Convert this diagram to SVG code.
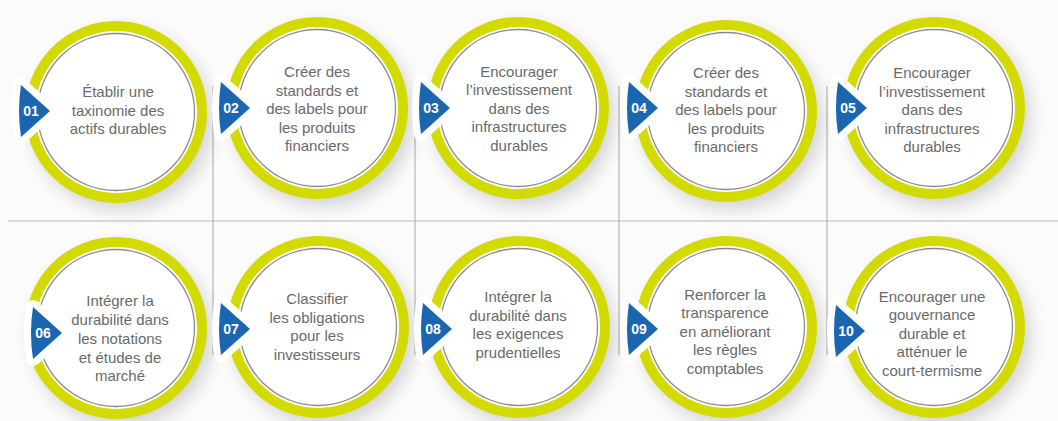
<svg xmlns="http://www.w3.org/2000/svg" xmlns:xlink="http://www.w3.org/1999/xlink" width="1058" height="421" viewBox="0 0 1058 421">
<style>
.lbl{font-family:"Liberation Sans",Arial,sans-serif;font-size:15px;fill:#6a6a6a;text-anchor:middle}
.num{font-family:"Liberation Sans",Arial,sans-serif;font-size:14px;font-weight:bold;fill:#ffffff;text-anchor:middle}
.ring{fill:#ffffff;stroke:#d3da00;stroke-width:10}
.inner{fill:none;stroke:#8c8c8c;stroke-width:1.3}
.shadow{fill:#000000;opacity:0.16;filter:url(#blur)}
.halo{fill:#ffffff;stroke:#ffffff;stroke-width:14;stroke-linejoin:round}
.tri{fill:#1b66b1}
.vline{stroke:#a8a8a8;stroke-width:1}
.hline{stroke:#cfcfcf;stroke-width:1.5}
</style>
<defs>
<filter id="blur" x="-30%" y="-30%" width="160%" height="160%"><feGaussianBlur stdDeviation="9"/></filter>
<path id="tri" d="M-29,-26 Q-33,0 -29,26 L0,0 Z"/>
<g id="disc">
<circle class="shadow" cx="6" cy="8" r="90"/>
<circle class="ring" cx="0" cy="0" r="86"/>
<circle class="inner" cx="0" cy="0" r="78.5"/>
</g>
</defs>
<rect width="1058" height="421" fill="#fbfbfb"/>
<g id="connectors">
<line class="hline" x1="8" y1="221" x2="1058" y2="221"/>
<line class="vline" x1="213" y1="86" x2="213" y2="355"/>
<line class="vline" x1="415" y1="86" x2="415" y2="355"/>
<line class="vline" x1="619" y1="86" x2="619" y2="355"/>
<line class="vline" x1="827" y1="86" x2="827" y2="355"/>
</g>
<g id="node01">
<use xlink:href="#disc" x="116" y="112"/>
<use xlink:href="#tri" class="halo" x="50" y="111"/>
<use xlink:href="#tri" class="tri" x="50" y="111"/>
<text class="num" x="31" y="116">01</text>
<text class="lbl" x="118"><tspan x="118" y="97">Établir une</tspan><tspan x="118" y="115.5">taxinomie des</tspan><tspan x="118" y="134">actifs durables</tspan></text>
</g>
<g id="node02">
<use xlink:href="#disc" x="317" y="108"/>
<use xlink:href="#tri" class="halo" x="250" y="108"/>
<use xlink:href="#tri" class="tri" x="250" y="108"/>
<text class="num" x="231" y="113">02</text>
<text class="lbl"><tspan x="317" y="77">Créer des</tspan><tspan x="317" y="95.5">standards et</tspan><tspan x="317" y="114">des labels pour</tspan><tspan x="317" y="132.5">les produits</tspan><tspan x="317" y="151">financiers</tspan></text>
</g>
<g id="node03">
<use xlink:href="#disc" x="518" y="108"/>
<use xlink:href="#tri" class="halo" x="450" y="108"/>
<use xlink:href="#tri" class="tri" x="450" y="108"/>
<text class="num" x="431" y="113">03</text>
<text class="lbl"><tspan x="519" y="76.5">Encourager</tspan><tspan x="519" y="95">l’investissement</tspan><tspan x="519" y="113.5">dans des</tspan><tspan x="519" y="132">infrastructures</tspan><tspan x="519" y="150.5">durables</tspan></text>
</g>
<g id="node04">
<use xlink:href="#disc" x="726" y="111"/>
<use xlink:href="#tri" class="halo" x="658" y="108"/>
<use xlink:href="#tri" class="tri" x="658" y="108"/>
<text class="num" x="639" y="113">04</text>
<text class="lbl"><tspan x="726" y="78">Créer des</tspan><tspan x="726" y="96.5">standards et</tspan><tspan x="726" y="115">des labels pour</tspan><tspan x="726" y="133.5">les produits</tspan><tspan x="726" y="152">financiers</tspan></text>
</g>
<g id="node05">
<use xlink:href="#disc" x="934" y="108"/>
<use xlink:href="#tri" class="halo" x="867" y="108"/>
<use xlink:href="#tri" class="tri" x="867" y="108"/>
<text class="num" x="848" y="113">05</text>
<text class="lbl"><tspan x="932" y="78">Encourager</tspan><tspan x="932" y="96.5">l’investissement</tspan><tspan x="932" y="115">dans des</tspan><tspan x="932" y="133.5">infrastructures</tspan><tspan x="932" y="152">durables</tspan></text>
</g>
<g id="node06">
<use xlink:href="#disc" x="116" y="328"/>
<use xlink:href="#tri" class="halo" x="62" y="333"/>
<use xlink:href="#tri" class="tri" x="62" y="333"/>
<text class="num" x="43" y="338">06</text>
<text class="lbl"><tspan x="120" y="306">Intégrer la</tspan><tspan x="120" y="325">durabilité dans</tspan><tspan x="120" y="344">les notations</tspan><tspan x="120" y="363">et études de</tspan><tspan x="120" y="381">marché</tspan></text>
</g>
<g id="node07">
<use xlink:href="#disc" x="318" y="327"/>
<use xlink:href="#tri" class="halo" x="250" y="329"/>
<use xlink:href="#tri" class="tri" x="250" y="329"/>
<text class="num" x="231" y="334">07</text>
<text class="lbl"><tspan x="317" y="304">Classifier</tspan><tspan x="317" y="322.5">les obligations</tspan><tspan x="317" y="341">pour les</tspan><tspan x="317" y="359.5">investisseurs</tspan></text>
</g>
<g id="node08">
<use xlink:href="#disc" x="519" y="327"/>
<use xlink:href="#tri" class="halo" x="452" y="329"/>
<use xlink:href="#tri" class="tri" x="452" y="329"/>
<text class="num" x="433" y="334">08</text>
<text class="lbl"><tspan x="518" y="302">Intégrer la</tspan><tspan x="518" y="320.5">durabilité dans</tspan><tspan x="518" y="339">les exigences</tspan><tspan x="518" y="357.5">prudentielles</tspan></text>
</g>
<g id="node09">
<use xlink:href="#disc" x="726" y="327"/>
<use xlink:href="#tri" class="halo" x="658" y="329"/>
<use xlink:href="#tri" class="tri" x="658" y="329"/>
<text class="num" x="639" y="334">09</text>
<text class="lbl"><tspan x="725" y="299.5">Renforcer la</tspan><tspan x="725" y="318">transparence</tspan><tspan x="725" y="336.5">en améliorant</tspan><tspan x="725" y="355">les règles</tspan><tspan x="725" y="373.5">comptables</tspan></text>
</g>
<g id="node10">
<use xlink:href="#disc" x="934" y="327"/>
<use xlink:href="#tri" class="halo" x="865" y="331"/>
<use xlink:href="#tri" class="tri" x="865" y="331"/>
<text class="num" x="846" y="336">10</text>
<text class="lbl"><tspan x="932" y="301.5">Encourager une</tspan><tspan x="932" y="320">gouvernance</tspan><tspan x="932" y="338.5">durable et</tspan><tspan x="932" y="357">atténuer le</tspan><tspan x="932" y="375.5">court-termisme</tspan></text>
</g>
</svg>
